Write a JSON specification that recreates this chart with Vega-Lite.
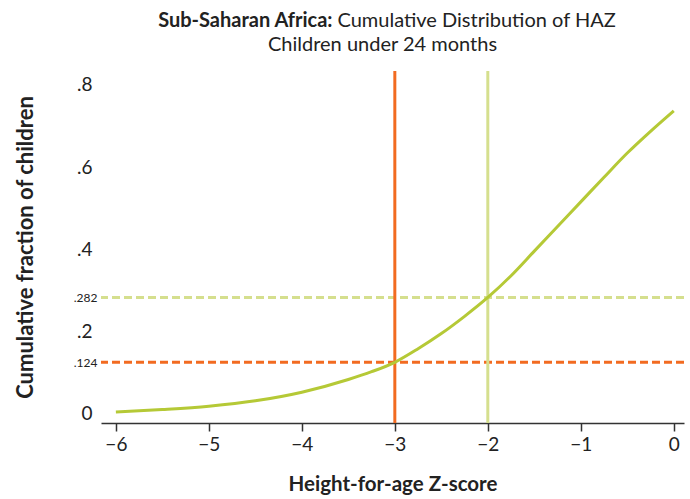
{
  "$schema": "https://vega.github.io/schema/vega-lite/v6.json",
  "autosize": "none",
  "width": 583,
  "height": 352,
  "padding": {"left": 101, "top": 71, "right": 6, "bottom": 76},
  "background": "white",
  "config": {"view": {"stroke": null}, "font": "Lato"},
  "title": {
    "text": "Children under 24 months",
    "anchor": "middle",
    "frame": "group",
    "dx": -10,
    "offset": -45,
    "font": "Lato",
    "fontSize": 20,
    "fontWeight": "normal",
    "color": "#222222"
  },
  "resolve": {"axis": {"x": "independent", "y": "independent"}},
  "datasets": {
    "curve": [
      {"z": -6, "frac": 0.003},
      {"z": -5.5, "frac": 0.009},
      {"z": -5, "frac": 0.017},
      {"z": -4.5, "frac": 0.030},
      {"z": -4, "frac": 0.051},
      {"z": -3.5, "frac": 0.082},
      {"z": -3.25, "frac": 0.101},
      {"z": -3, "frac": 0.124},
      {"z": -2.75, "frac": 0.157},
      {"z": -2.5, "frac": 0.194},
      {"z": -2.25, "frac": 0.236},
      {"z": -2, "frac": 0.282},
      {"z": -1.75, "frac": 0.335},
      {"z": -1.5, "frac": 0.395},
      {"z": -1.25, "frac": 0.455},
      {"z": -1, "frac": 0.515},
      {"z": -0.75, "frac": 0.575},
      {"z": -0.5, "frac": 0.634},
      {"z": -0.25, "frac": 0.687},
      {"z": 0, "frac": 0.737}
    ],
    "vlines": [
      {"z": -3, "cut": "severe"},
      {"z": -2, "cut": "moderate"}
    ],
    "hlines": [
      {"frac": 0.124, "cut": "severe"},
      {"frac": 0.282, "cut": "moderate"}
    ]
  },
  "layer": [
    {
      "data": {"name": "hlines"},
      "mark": {"type": "rule", "strokeWidth": 3, "strokeDash": [8, 4]},
      "encoding": {
        "y": {
          "field": "frac", "type": "quantitative",
          "scale": {"domain": [-0.024, 0.834], "nice": false, "zero": false},
          "axis": {
            "orient": "right",
            "domain": false, "ticks": false, "labels": false, "grid": false,
            "title": "Cumulative Distribution of HAZ",
            "titleAngle": 0,
            "titleAlign": "left",
            "titleBaseline": "middle",
            "titleX": -347,
            "titleY": -51,
            "titleFont": "Lato",
            "titleFontSize": 20,
            "titleFontWeight": "normal",
            "titleColor": "#222222"
          }
        },
        "color": {"field": "cut", "type": "nominal", "scale": {"domain": ["severe", "moderate"], "range": ["#f26b21", "#d5df8e"]}, "legend": null}
      }
    },
    {
      "data": {"name": "vlines"},
      "mark": {"type": "rule", "strokeWidth": 3},
      "encoding": {
        "x": {
          "field": "z", "type": "quantitative",
          "axis": {
            "orient": "top",
            "domain": false, "ticks": false, "labels": false, "grid": false,
            "title": "Sub-Saharan Africa:",
            "titleAngle": 0,
            "titleAlign": "right",
            "titleBaseline": "middle",
            "titleX": 231,
            "titleY": -51,
            "titleFont": "Lato",
            "titleFontSize": 20,
            "titleFontWeight": "bold",
            "titleColor": "#222222"
          }
        },
        "color": {"field": "cut", "type": "nominal", "legend": null}
      }
    },
    {
      "data": {"name": "curve"},
      "mark": {"type": "line", "strokeWidth": 3, "color": "#b5c936", "interpolate": "monotone"},
      "encoding": {
        "x": {
          "field": "z", "type": "quantitative",
          "scale": {"domain": [-6.16, 0.11], "nice": false, "zero": false},
          "axis": {
            "title": "Height-for-age Z-score",
            "values": [-6, -5, -4, -3, -2, -1, 0],
            "format": "d",
            "grid": false,
            "domainColor": "#333333",
            "domainWidth": 1.5,
            "tickColor": "#333333",
            "tickWidth": 1.5,
            "tickSize": 8,
            "labelFontSize": 19,
            "labelColor": "#222222",
            "labelPadding": 4,
            "titleFontSize": 20.5,
            "titleFontWeight": "bold",
            "titleColor": "#222222",
            "titlePadding": 20
          }
        },
        "y": {
          "field": "frac", "type": "quantitative",
          "axis": {
            "title": "Cumulative fraction of children",
            "values": [0, 0.124, 0.2, 0.282, 0.4, 0.6, 0.8],
            "labelExpr": "datum.value == 0 ? '0' : replace(toString(datum.value), '0.', '.')",
            "grid": false,
            "domain": false,
            "ticks": false,
            "labelFontSize": {"condition": {"test": "datum.value == 0.124 || datum.value == 0.282", "value": 12}, "value": 19},
            "labelPadding": {"condition": {"test": "datum.value == 0.124 || datum.value == 0.282", "value": 4}, "value": 9},
            "labelColor": "#222222",
            "titleFontSize": 22,
            "titleFontWeight": "bold",
            "titleColor": "#222222",
            "titlePadding": 36
          }
        }
      }
    }
  ]
}
